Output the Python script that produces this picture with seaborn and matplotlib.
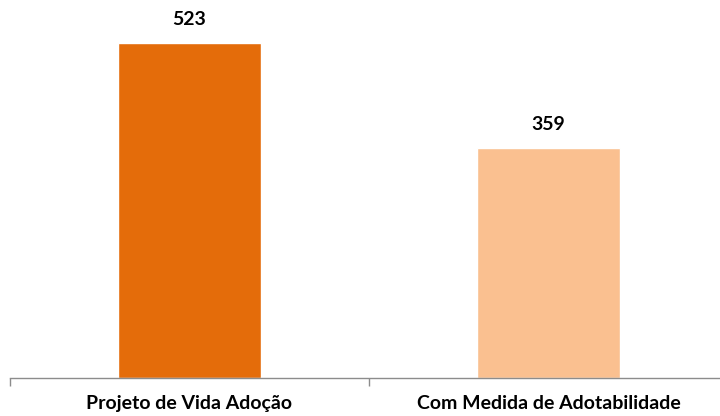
import pandas as pd
import seaborn as sns
import matplotlib.pyplot as plt

# data
categories = ["Projeto de Vida Adoção", "Com Medida de Adotabilidade"]
values = [523, 359]
colors = ["#E46C0A", "#FAC090"]

sns.set_style("white")
plt.rcParams["font.family"] = ["Lato", "DejaVu Sans"]

df = pd.DataFrame({"categoria": categories, "total": values})

fig = plt.figure(figsize=(7.2, 4.16), dpi=100)
ax = fig.add_axes([10 / 720, 38 / 416, 718 / 720, 378 / 416])

sns.barplot(data=df, x="categoria", y="total", hue="categoria",
            palette=colors, width=0.4, legend=False, ax=ax, saturation=1)

ax.set_ylim(0, 591)
ax.set_xlim(-0.5, 1.5)
ax.set_xlabel("")
ax.set_ylabel("")
ax.set_yticks([])

# Remove frame except bottom axis line
for side in ["top", "right", "left"]:
    ax.spines[side].set_visible(False)
ax.spines["bottom"].set_color("#8C8C8C")
ax.spines["bottom"].set_linewidth(1)

# Labels centered on bars, tick marks between categories
ax.set_xticks([0, 1])
ax.set_xticklabels(categories, fontsize=14, fontweight="bold", color="black")
ax.tick_params(axis="x", which="major", length=0, pad=12)
ax.set_xticks([-0.5, 0.5, 1.5], minor=True)
ax.tick_params(axis="x", which="minor", length=6, width=1, color="#8C8C8C",
               direction="out", bottom=True)

# Value labels above bars
for p in ax.patches:
    ax.annotate(f"{p.get_height():,.0f}",
                (p.get_x() + p.get_width() / 2, p.get_height()),
                xytext=(0, 11), textcoords="offset points",
                ha="center", va="bottom",
                fontsize=14, fontweight="bold", color="black")

fig.savefig("out.png", dpi=100)
